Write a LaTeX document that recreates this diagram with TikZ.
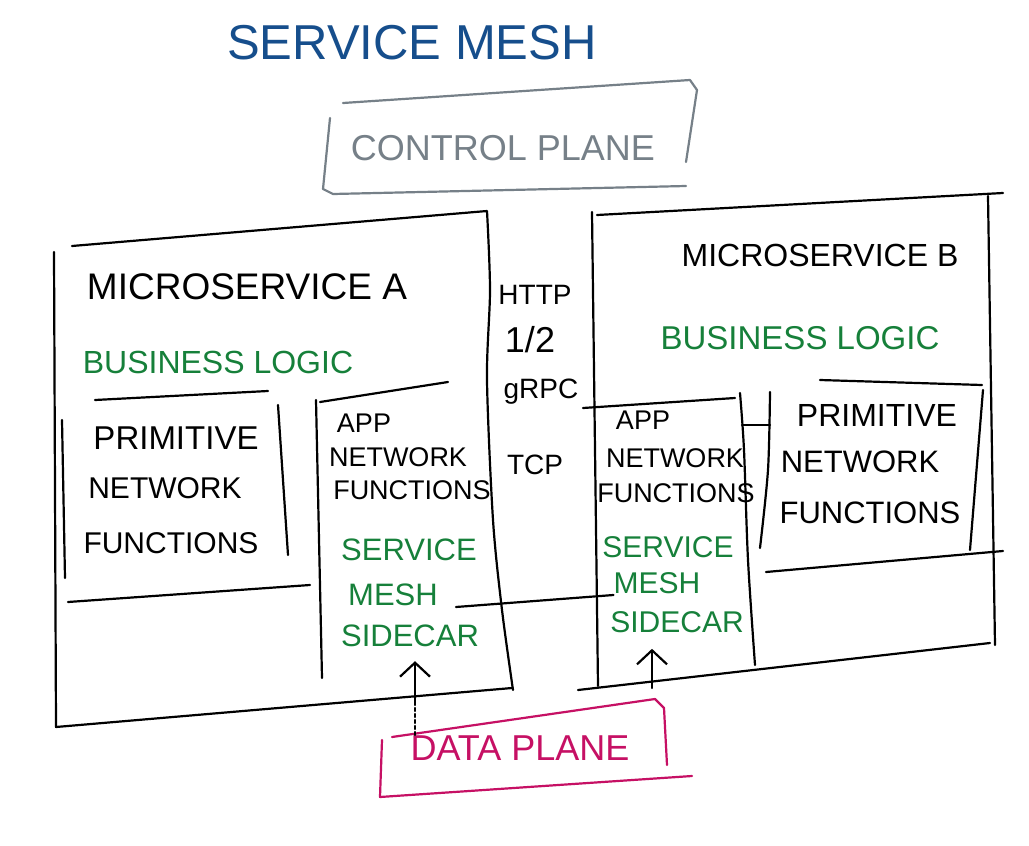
\documentclass[tikz,border=0pt]{standalone}
\usepackage{fontspec}
\setmainfont{Liberation Sans}
\usetikzlibrary{arrows.meta}
\definecolor{inkblue}{RGB}{22,78,140}
\definecolor{inkgray}{RGB}{118,128,136}
\definecolor{inkgreen}{RGB}{22,128,58}
\definecolor{inkpink}{RGB}{198,16,100}
\begin{document}
\begin{tikzpicture}[x=1pt,y=-1pt,
  ink/.style={line width=2.2pt,line cap=round,line join=round},
  lbl/.style={inner sep=0pt},
  fs/.style={font=\fontsize{#1}{#1}\selectfont},
  barb/.style={-{Straight Barb[length=14pt,width=30pt,line width=2.2pt]}}]
\useasboundingbox (0,0) rectangle (1029,846);
\fill[white] (0,0) rectangle (1029,846);

% title and control plane
\node[lbl,fs=49,text=inkblue] (title) at (412,43) {SERVICE MESH};
\draw[ink,inkgray] (343,103) -- (690,80) -- (697,90) -- (686,162);
\draw[ink,inkgray] (330,118) -- (323,189) -- (333,194) -- (686,186);
\node[lbl,fs=36,text=inkgray] (ctrl) at (503,148) {CONTROL PLANE};

% microservice A
\draw[ink] (54,252) -- (56,727) -- (512,688);
\draw[ink] (72,246) -- (487,211) plot[smooth] coordinates {(487,211) (490,290) (487,380) (493,520) (502,610) (513,690)};
\node[lbl,fs=37] (msA) at (247,287) {MICROSERVICE A};
\node[lbl,fs=32,text=inkgreen] (blA) at (218,362) {BUSINESS LOGIC};
% primitive A
\draw[ink] (95,400) -- (268,391);
\draw[ink] (62,420) -- (65,578);
\draw[ink] (278,405) -- (288,555);
\draw[ink] (68,602) -- (310,585);
\node[lbl,fs=33] (primA1) at (176,438) {PRIMITIVE};
\node[lbl,fs=30] (primA2) at (165,488) {NETWORK};
\node[lbl,fs=30] (primA3) at (171,543) {FUNCTIONS};
% app A
\draw[ink] (320,402) -- (448,382);
\draw[ink] (316,400) -- (322,678);
\node[lbl,fs=27] (appA1) at (364,423) {APP};
\node[lbl,fs=27] (appA2) at (398,457) {NETWORK};
\node[lbl,fs=27] (appA3) at (412,490) {FUNCTIONS};
\node[lbl,fs=31,text=inkgreen] (sA1) at (409,550) {SERVICE};
\node[lbl,fs=31,text=inkgreen] (sA2) at (393,595) {MESH};
\node[lbl,fs=31,text=inkgreen] (sA3) at (410,636) {SIDECAR};

% protocols
\node[lbl,fs=28] (http) at (535,295) {HTTP};
\node[lbl,fs=36] (v12) at (530,340) {1/2};
\node[lbl,fs=28] (grpc) at (541,392) {gRPC};
\node[lbl,fs=28] (tcp) at (535,465) {TCP};

% microservice B
\draw[ink] (597,215) -- (1003,193);
\draw[ink] (592,212) -- (598,686);
\draw[ink] (988,196) -- (995,645);
\draw[ink] (578,690) -- (990,643);
\node[lbl,fs=32] (msB) at (820,255) {MICROSERVICE B};
\node[lbl,fs=33,text=inkgreen] (blB) at (800,338) {BUSINESS LOGIC};
% app B
\draw[ink] (583,408) -- (735,398);
\draw[ink] plot[smooth] coordinates {(740,393) (744,450) (748,560) (755,665)};
\node[lbl,fs=27] (appB1) at (643,420) {APP};
\node[lbl,fs=27] (appB2) at (675,458) {NETWORK};
\node[lbl,fs=27] (appB3) at (676,493) {FUNCTIONS};
\node[lbl,fs=30,text=inkgreen] (sB1) at (668,547) {SERVICE};
\node[lbl,fs=30,text=inkgreen] (sB2) at (657,583) {MESH};
\node[lbl,fs=30,text=inkgreen] (sB3) at (677,622) {SIDECAR};
% primitive B
\draw[ink] plot[smooth] coordinates {(770,392) (768,470) (760,548)};
\draw[ink] (820,380) -- (982,385);
\draw[ink] (983,390) -- (970,550);
\draw[ink] (766,572) -- (1003,551);
\node[lbl,fs=32] (primB1) at (877,415) {PRIMITIVE};
\node[lbl,fs=31] (primB2) at (860,462) {NETWORK};
\node[lbl,fs=31] (primB3) at (870,513) {FUNCTIONS};
\coordinate (appBedge) at (742,425);
\coordinate (primBedge) at (770,425);
\draw[ink] (appBedge) -- (primBedge);

% data plane
\draw[ink,inkpink] (392,737) -- (655,699) -- (664,708) -- (667,765);
\draw[ink,inkpink] (382,740) -- (380,797) -- (692,776);
\node[lbl,fs=36,text=inkpink] (dp) at (520,748) {DATA PLANE};

% connectors
\draw[ink] ([xshift=18pt,yshift=-12pt]sA2.east) -- ([yshift=-12pt]sB2.west);
\coordinate (dpA) at (415,735);
\coordinate (midA) at (415,702);
\draw[ink,dashed] (dpA) -- (midA);
\draw[ink,barb] (midA) -- ([yshift=-14pt]sA3.south -| midA);
\coordinate (dpB) at (652,688);
\draw[ink,barb] (dpB) -- ([yshift=-16pt]sB3.south -| dpB);
\end{tikzpicture}
\end{document}
